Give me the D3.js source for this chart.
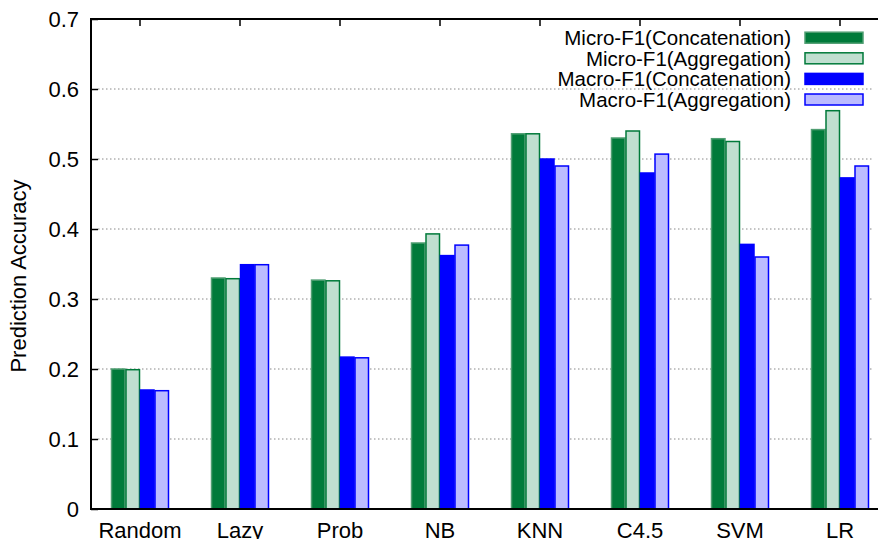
<!DOCTYPE html>
<html>
<head>
<meta charset="utf-8">
<script src="https://cdn.jsdelivr.net/npm/d3@7"></script>
<style>
  body { margin: 0; background: #fff; }
  svg { display: block; font-family: "Liberation Sans", Arial, sans-serif; }
</style>
</head>
<body>
<svg id="chart" width="878" height="539"></svg>
<script>
// chart data
const categories = ["Random", "Lazy", "Prob", "NB", "KNN", "C4.5", "SVM", "LR"];
const seriesNames = ["Micro-F1(Concatenation)", "Micro-F1(Aggregation)", "Macro-F1(Concatenation)", "Macro-F1(Aggregation)"];
const microConcat = [0.200, 0.330, 0.327, 0.380, 0.536, 0.530, 0.529, 0.542];
const microAggr   = [0.199, 0.329, 0.326, 0.393, 0.536, 0.540, 0.525, 0.569];
const macroConcat = [0.170, 0.349, 0.217, 0.362, 0.500, 0.480, 0.378, 0.473];
const macroAggr   = [0.169, 0.349, 0.216, 0.377, 0.490, 0.507, 0.360, 0.490];
const yTicks = [0, 0.1, 0.2, 0.3, 0.4, 0.5, 0.6, 0.7];

const seriesValues = [microConcat, microAggr, macroConcat, macroAggr];
const fills   = ["#007a3a", "#c0dfd0", "#0000ff", "#bbbbff"];
const strokes = ["#4f9e72", "#007a3a", "#0000ff", "#0000ff"];

const svg = d3.select("#chart");
const margin = {top: 19, left: 91, bottom: 509};

const x = d3.scaleBand().domain(categories).range([90, 890]).paddingInner(0.42).paddingOuter(0.21);
const xs = d3.scaleBand().domain(d3.range(4)).range([0, x.bandwidth()]);
const y = d3.scaleLinear().domain([0, 0.7]).range([509, 19]);

// grid
svg.append("g")
  .selectAll("line")
  .data(yTicks.filter(t => t > 0 && t < 0.7))
  .join("line")
    .attr("x1", 98).attr("x2", 874)
    .attr("y1", d => y(d)).attr("y2", d => y(d))
    .attr("stroke", "#888")
    .attr("stroke-width", 1)
    .attr("stroke-dasharray", "1.5,2.5");

// bars
const rows = categories.map((c, i) => ({cat: c, vals: seriesValues.map(s => s[i])}));
const grp = svg.append("g").selectAll("g")
  .data(rows)
  .join("g")
    .attr("transform", d => "translate(" + x(d.cat) + ",0)");

grp.selectAll("rect")
  .data(d => d.vals.map((v, k) => ({v, k})))
  .join("rect")
    .attr("x", d => xs(d.k) + 0.5)
    .attr("y", d => y(d.v))
    .attr("width", xs.bandwidth() - 1)
    .attr("height", d => y(0) - y(d.v))
    .attr("fill", d => fills[d.k])
    .attr("stroke", d => strokes[d.k])
    .attr("stroke-width", 1.5);

// axes
const yAxis = svg.append("g")
  .attr("transform", "translate(" + margin.left + ",0)")
  .call(d3.axisLeft(y).tickValues(yTicks).tickFormat(d => d === 0 ? "0" : d3.format(".1f")(d)).tickSize(-7).tickPadding(12));
yAxis.select(".domain").remove();
yAxis.selectAll("line").attr("stroke", "#000").attr("stroke-width", 1.5);
yAxis.selectAll("text").attr("font-size", 22).attr("fill", "#000")
  .attr("font-family", "'Liberation Sans', Arial, sans-serif");

const xAxis = svg.append("g")
  .attr("transform", "translate(0," + margin.bottom + ")")
  .call(d3.axisBottom(x).tickSize(0));
xAxis.select(".domain").remove();
xAxis.selectAll("text").attr("font-size", 22).attr("fill", "#000")
  .attr("y", 29).attr("dy", 0)
  .attr("font-family", "'Liberation Sans', Arial, sans-serif");

const xTop = svg.append("g")
  .attr("transform", "translate(0," + margin.top + ")")
  .call(d3.axisTop(x).tickSize(-7).tickFormat(""));
xTop.select(".domain").remove();
xTop.selectAll("line").attr("stroke", "#000").attr("stroke-width", 1.5);

// frame
svg.append("path")
  .attr("d", "M880," + margin.top + "H" + margin.left + "V" + margin.bottom + "H880")
  .attr("fill", "none")
  .attr("stroke", "#000")
  .attr("stroke-width", 2);

// y label
svg.append("text")
  .attr("transform", "translate(26,276) rotate(-90)")
  .attr("text-anchor", "middle")
  .attr("font-size", 22)
  .text("Prediction Accuracy");

// legend
const legend = svg.append("g").selectAll("g")
  .data(seriesNames)
  .join("g")
    .attr("transform", (d, i) => "translate(0," + (37.7 + i * 20.6) + ")");
legend.append("text")
  .attr("x", 791).attr("y", 0).attr("dy", "0.36em")
  .attr("text-anchor", "end")
  .attr("font-size", 20.5)
  .text(d => d);
legend.append("rect")
  .attr("x", 805).attr("y", -5.5)
  .attr("width", 58).attr("height", 11)
  .attr("fill", (d, i) => fills[i])
  .attr("stroke", (d, i) => strokes[i])
  .attr("stroke-width", 1.5);
</script>
</body>
</html>
